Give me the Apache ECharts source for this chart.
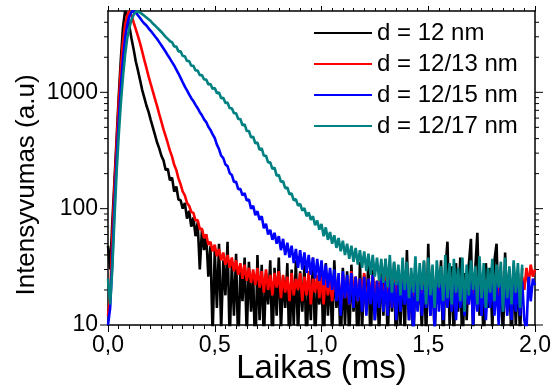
<!DOCTYPE html>
<html>
<head>
<meta charset="utf-8">
<script src="https://cdn.jsdelivr.net/npm/echarts@6/dist/echarts.min.js"></script>
<style>html,body{margin:0;padding:0;background:#fff}#c{width:558px;height:387px}</style>
</head>
<body>
<div id="c"></div>
<script>
// sampling step of the decay curves (ms)
const timeStep = 0.01;
const seriesNames = ['d = 12 nm', 'd = 12/13 nm', 'd = 12/15 nm', 'd = 12/17 nm'];
const seriesColors = ['#000000', '#ff0000', '#0000ff', '#008080'];
const xTickLabels = ['0,0', '0,5', '1,0', '1,5', '2,0'];
const yTickLabels = [10, 100, 1000];
const yMinorTicks = [20,30,40,50,60,70,80,90,200,300,400,500,600,700,800,900,2000,3000,4000];

const black = [48,30,75,170,390,900,1900,3600,5000,4500,
3700,2900,2350,1850,1550,1280,1050,900,770,680,
580,500,430,370,330,285,260,215,220,175,
185,140,155,120,118,100,112,82,96,70,
84,58,76,30,66,44,60,26,48,8,
44,14,50,9,36,18,52,7,34,12,
41,6,30,16,38,8,35,13,27,5,
40,11,33,7,28,15,36,6,31,12,
38,9,26,14,34,5,30,10,36,8,
29,13,33,6,27,11,38,7,24,15,
30,5,34,12,28,8,36,14,25,6,
31,10,29,7,33,13,26,5,35,9,
27,14,36,6,30,11,24,8,32,12,
37,7,29,13,34,5,26,10,31,8,
44,11,28,6,33,14,25,9,35,7,
50,12,30,8,27,15,36,6,29,52,
10,32,7,34,13,38,5,28,11,33,
55,8,30,62,12,27,6,34,14,31,
9,36,50,11,29,7,42,13,30,6,
33,10,28,8,31];

const red = [12,18,55,150,350,800,1600,2700,3800,4600,
5000,4600,4000,3500,3050,2650,2250,1900,1620,1370,
1180,1020,880,760,650,560,480,420,365,315,
280,238,215,182,162,140,130,112,106,94,
92,79,80,67,67,56,60,49,52,43,
49,39,45,36,42,33,40,31,38,29,
36,27,34,25,33,24,31,23,30,22,
31,21,29,19,30,20,27,18,28,21,
29,17,27,19,26,16,28,18,25,20,
28,16,26,18,29,15,25,19,27,17,
26,15,28,18,24,16,27,19,25,14,
27,17,24,15,29,18,26,16,25,19,
28,14,25,17,27,16,24,19,26,15,
27,18,25,14,28,17,24,16,26,19,
25,15,27,18,24,16,28,14,26,17,
29,16,25,19,26,15,27,17,24,18,
26,14,28,17,25,16,27,19,24,15,
27,18,25,16,28,14,26,17,25,19,
24,16,27,18,26,15,28,17,25,16,
27,18,25,17,26,20,31,22,33,26,
30];

const blue = [10,14,35,100,250,550,1100,1900,2900,3800,
4500,4900,5000,4850,4600,4350,4100,3900,3750,3550,
3380,3200,3030,2870,2700,2540,2380,2230,2080,1950,
1820,1700,1570,1450,1330,1220,1120,1040,960,890,
840,780,730,675,635,585,555,505,475,435,
405,355,325,285,272,240,232,202,195,170,
170,147,148,130,136,117,120,100,106,88,
95,80,86,68,74,60,66,54,62,50,
58,44,55,40,51,38,48,34,45,31,
44,30,42,28,40,27,38,25,37,24,
36,22,33,21,31,20,30,16,28,12,
29,17,27,15,28,14,26,16,25,13,
26,12,25,15,27,11,24,14,26,13,
24,12,25,14,23,11,26,13,24,15,
23,11,25,8,24,13,26,12,22,14,
25,12,24,9,26,13,23,11,25,14,
27,13,23,11,25,14,24,12,23,15,
26,10,24,13,22,12,25,11,23,14,
24,12,23,10,25,13,22,12,24,11,
23,13,22,12,24,11,9,26,16,25,
22];

const teal = [25,15,30,80,200,420,800,1350,2100,2900,
3600,4200,4650,4900,4950,4850,4700,4550,4400,4250,
4100,3900,3750,3600,3450,3300,3150,3000,2880,2750,
2700,2480,2470,2250,2250,2050,2040,1860,1860,1690,
1690,1540,1540,1400,1410,1290,1290,1170,1180,1070,
1090,980,1000,890,900,810,815,730,730,660,
660,590,590,520,530,465,465,410,415,365,
370,320,330,285,285,250,250,220,225,192,
195,170,172,150,152,133,135,118,121,106,
110,96,101,86,93,80,86,72,79,66,
74,58,69,54,63,50,59,46,56,43,
53,40,50,37,48,35,46,33,44,31,
43,29,41,27,40,26,38,24,37,23,
37,21,40,19,35,22,33,18,38,20,
35,17,31,19,39,16,34,20,36,15,
38,18,33,14,36,21,32,16,40,17,
34,15,37,19,31,16,38,13,33,18,
36,20,32,15,39,17,34,14,31,19,
37,16,33,21,35,13,38,17,32,15,
36,19,34,14,33];

const allValues = [black, red, blue, teal];
const FONT = '"Liberation Sans", Arial, sans-serif';

const chart = echarts.init(document.getElementById('c'), null, {renderer: 'canvas'});

const lineSeries = allValues.map((vals, k) => ({
  name: seriesNames[k],
  type: 'line',
  data: vals.map((v, i) => [+(i * timeStep).toFixed(2), v]),
  showSymbol: false,
  symbol: 'none',
  sampling: null,
  clip: true,
  lineStyle: {color: seriesColors[k], width: 2.6},
  itemStyle: {color: seriesColors[k]},
  animation: false,
  z: 2 + k
}));

const tickData = yTickLabels.map(v => [v, 1]).concat(yMinorTicks.map(v => [v, 0]));

const yTickSeries = {
  type: 'custom',
  silent: true,
  clip: false,
  animation: false,
  data: tickData,
  encode: {y: 0},
  renderItem: function (params, api) {
    const v = api.value(0);
    const major = api.value(1) === 1;
    const len = major ? 8 : 4;
    const pL = api.coord([0, v]);
    const pR = api.coord([2, v]);
    return {
      type: 'group',
      children: [
        {type: 'line', shape: {x1: pL[0] - len, y1: pL[1], x2: pL[0], y2: pL[1]}, style: {stroke: '#000', lineWidth: 1}},
        {type: 'line', shape: {x1: pR[0], y1: pR[1], x2: pR[0] + len, y2: pR[1]}, style: {stroke: '#000', lineWidth: 1}}
      ]
    };
  }
};

const xLabelFor = v => {
  const idx = Math.round(v / 0.5);
  return Math.abs(v - idx * 0.5) < 1e-6 ? (xTickLabels[idx] || '') : '';
};

chart.setOption({
  animation: false,
  backgroundColor: '#fff',
  grid: {left: 108, right: 23, top: 11, bottom: 62, containLabel: false, outerBoundsMode: 'none'},
  legend: {
    data: seriesNames,
    orient: 'vertical',
    left: 314,
    top: 21,
    padding: 0,
    icon: 'rect',
    itemWidth: 58,
    itemHeight: 2,
    itemGap: 7,
    textStyle: {fontFamily: FONT, fontSize: 24, color: '#000', lineHeight: 24},
    selectedMode: false
  },
  xAxis: [{
    type: 'value', min: 0, max: 2, interval: 0.5,
    position: 'bottom',
    axisLine: {show: true, onZero: false, lineStyle: {color: '#000', width: 1.5}},
    axisTick: {show: true, inside: false, length: 7, lineStyle: {color: '#000', width: 1}},
    minorTick: {show: true, splitNumber: 10, length: 4, lineStyle: {color: '#000', width: 1}},
    splitLine: {show: false},
    axisLabel: {formatter: xLabelFor, fontFamily: FONT, fontSize: 23, color: '#000', margin: 9},
    name: 'Laikas (ms)', nameLocation: 'middle', nameGap: 27, nameMoveOverlap: false,
    nameTextStyle: {fontFamily: FONT, fontSize: 33, color: '#000'}
  }, {
    type: 'value', min: 0, max: 2, interval: 0.5,
    position: 'top',
    axisLine: {show: true, onZero: false, lineStyle: {color: '#000', width: 1.5}},
    axisTick: {show: true, inside: false, length: 5, lineStyle: {color: '#000', width: 1}},
    minorTick: {show: true, splitNumber: 10, length: 3, lineStyle: {color: '#000', width: 1}},
    splitLine: {show: false},
    axisLabel: {show: false}
  }],
  yAxis: [{
    type: 'log', logBase: 10, min: 10, max: 5000,
    position: 'left',
    axisLine: {show: true, onZero: false, lineStyle: {color: '#000', width: 1.5}},
    axisTick: {show: false},
    splitLine: {show: false},
    axisLabel: {
      formatter: v => { const r = Math.round(v); return yTickLabels.indexOf(r) >= 0 ? String(r) : ''; },
      showMaxLabel: false,
      fontFamily: FONT, fontSize: 23, color: '#000', margin: 10
    }
  }, {
    type: 'log', logBase: 10, min: 10, max: 5000,
    position: 'right',
    axisLine: {show: true, onZero: false, lineStyle: {color: '#000', width: 1.5}},
    axisTick: {show: false},
    splitLine: {show: false},
    axisLabel: {show: false}
  }],
  graphic: [{
    type: 'text', x: 27, y: 185, rotation: Math.PI / 2,
    style: {text: 'Intensyvumas (a.u)', font: '26px ' + FONT, fill: '#000', textAlign: 'center', textVerticalAlign: 'middle'}
  }],
  series: lineSeries.concat([yTickSeries])
});
</script>
</body>
</html>
